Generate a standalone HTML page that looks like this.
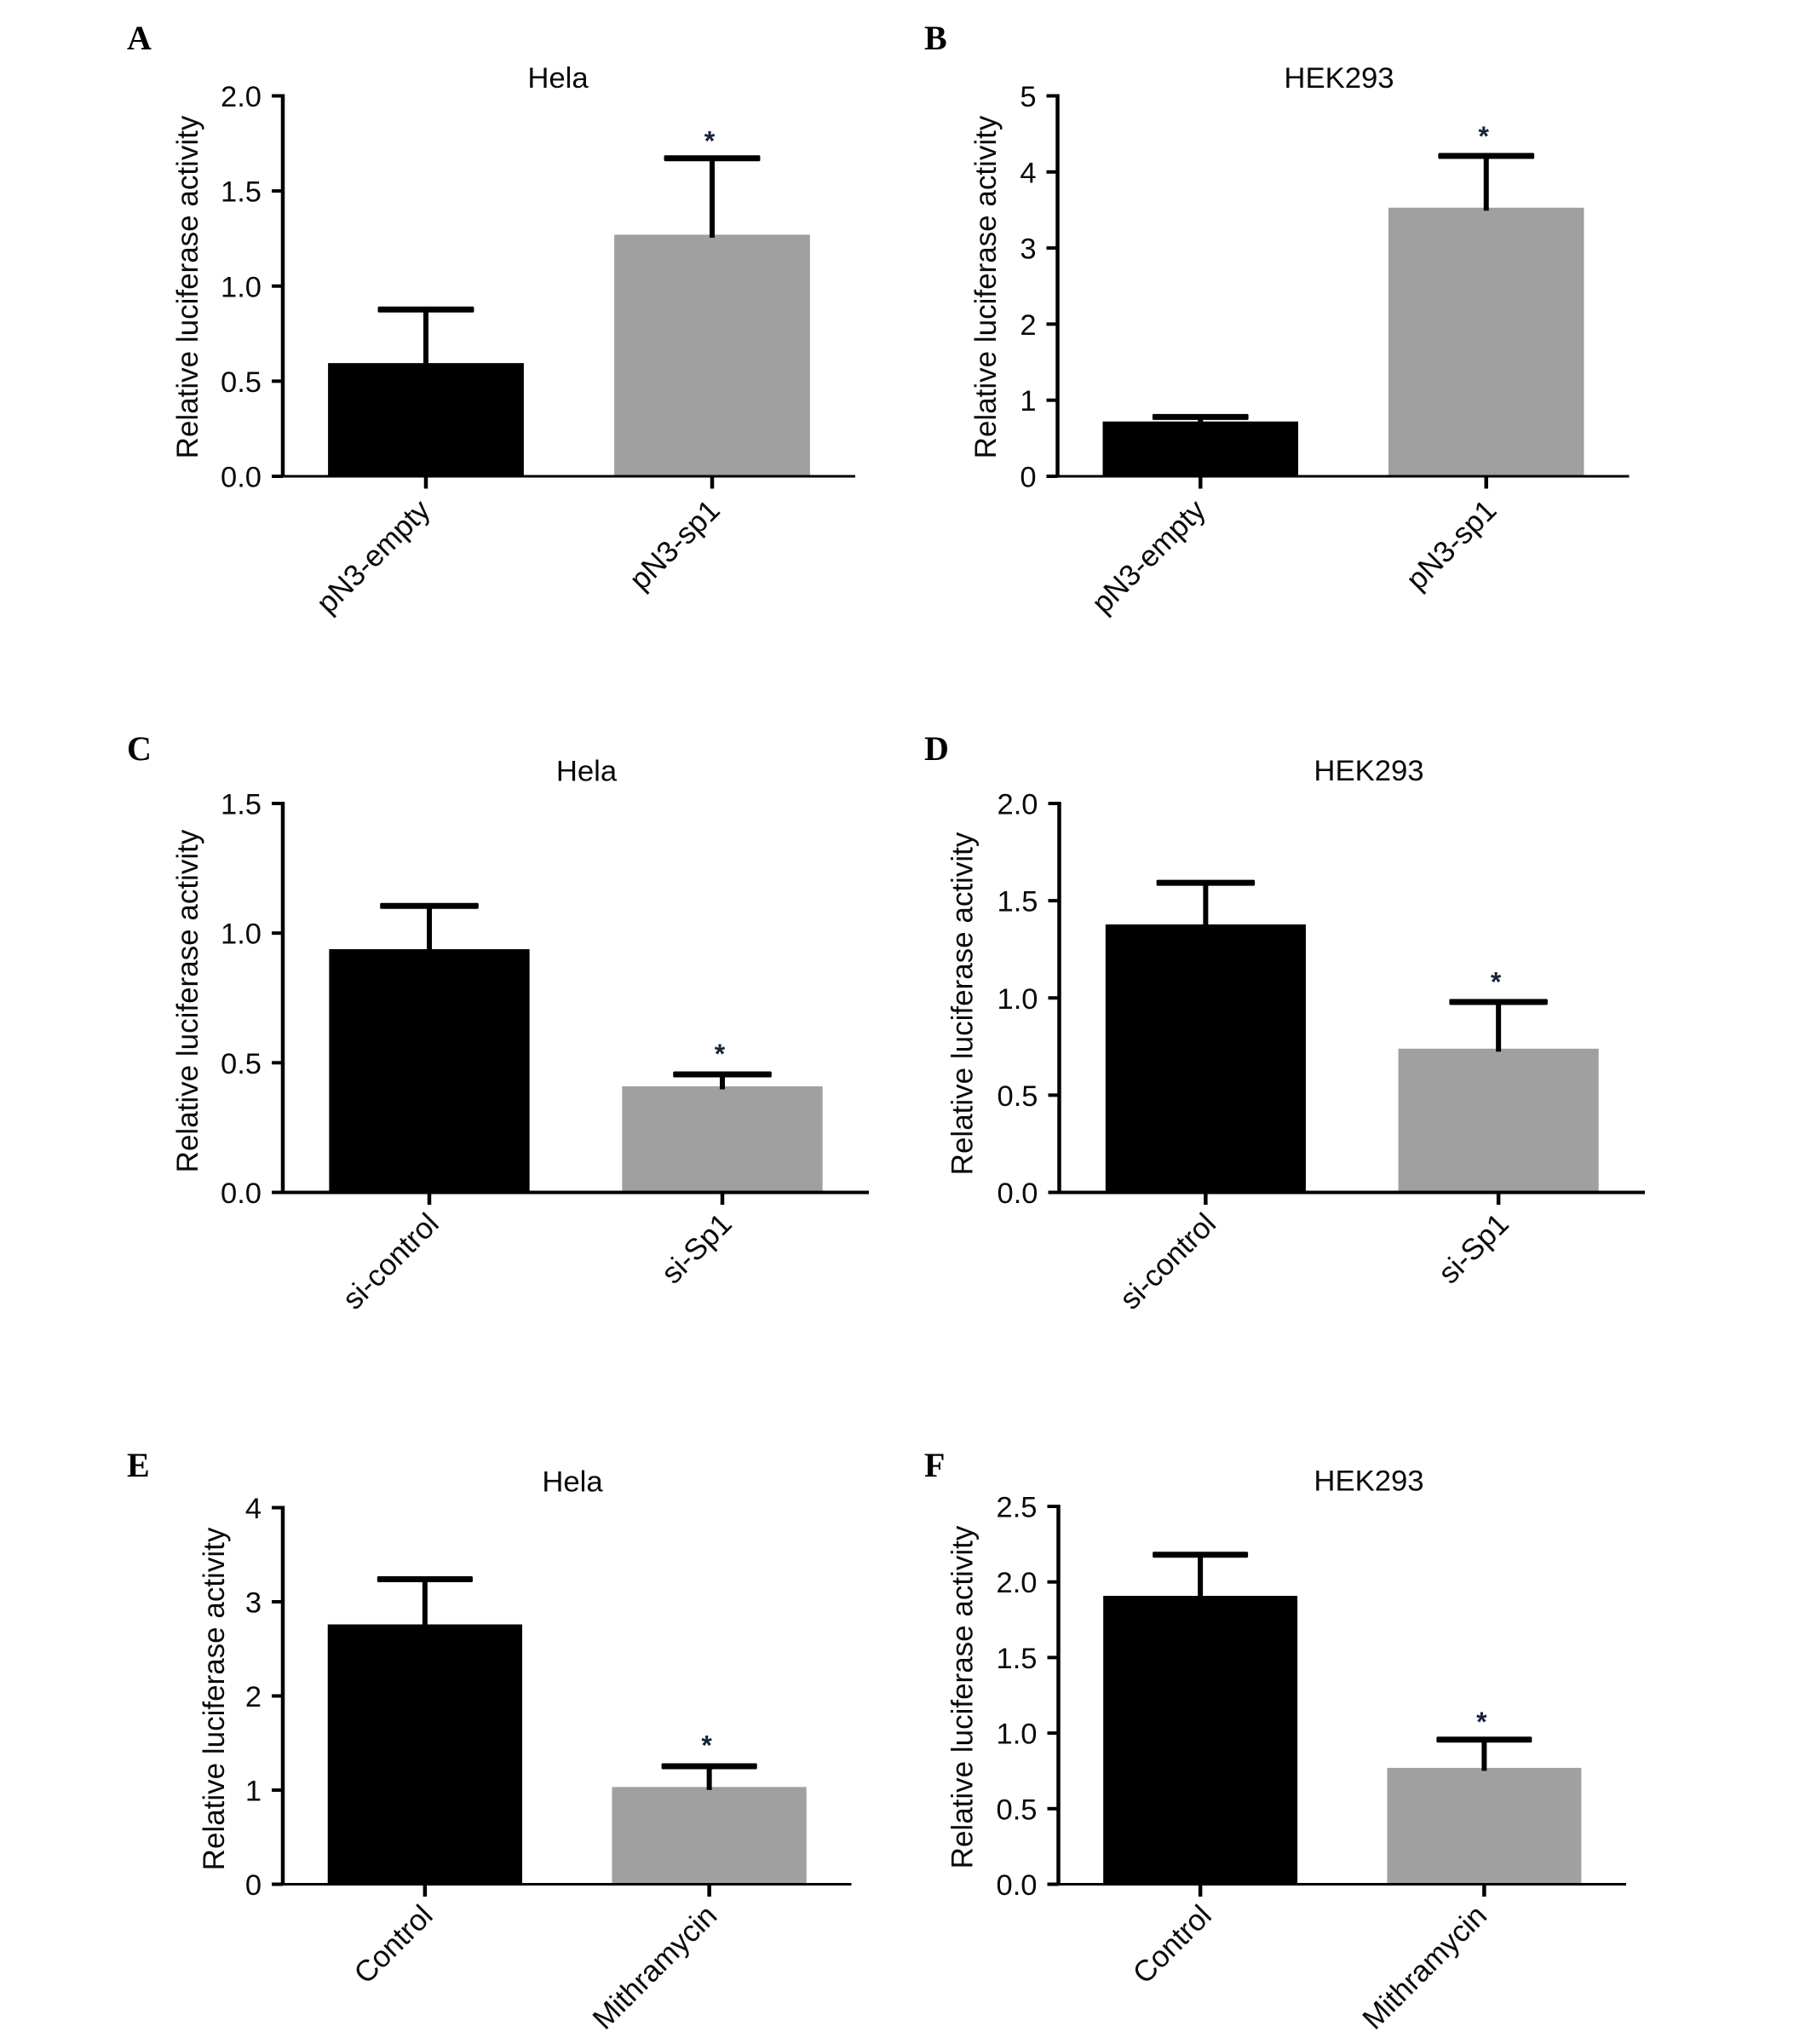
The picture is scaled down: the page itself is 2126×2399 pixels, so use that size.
<!DOCTYPE html>
<html lang="en">
<head>
<meta charset="utf-8">
<title>Relative luciferase activity panels</title>
<style>
html,body{margin:0;padding:0;background:#fff;overflow:hidden;}
svg{display:block;}
text{font-family:"Liberation Sans",Arial,sans-serif;fill:#0a0a0a;}
.letter{font-family:"Liberation Serif","Times New Roman",serif;font-weight:bold;font-size:40px;fill:#000;}
</style>
</head>
<body>
<svg id="figure" width="2126" height="2399" viewBox="0 0 2126 2399" xmlns="http://www.w3.org/2000/svg">
  <rect width="2126" height="2399" fill="#fff"/>

  <g id="panel-a">
    <text class="letter" x="149" y="58">A</text>
    <text text-anchor="middle" font-size="34.7" x="655" y="103">Hela</text>
    <text text-anchor="middle" font-size="35" transform="translate(232,337) rotate(-90)">Relative luciferase activity</text>
  </g>
  <g id="panel-b">
    <text class="letter" x="1085" y="58">B</text>
    <text text-anchor="middle" font-size="34.7" x="1572" y="103">HEK293</text>
    <text text-anchor="middle" font-size="35" transform="translate(1169,337) rotate(-90)">Relative luciferase activity</text>
  </g>
  <g id="panel-c">
    <text class="letter" x="149" y="892">C</text>
    <text text-anchor="middle" font-size="34.7" x="688.5" y="916.5">Hela</text>
    <text text-anchor="middle" font-size="35" transform="translate(232,1175) rotate(-90)">Relative luciferase activity</text>
  </g>
  <g id="panel-d">
    <text class="letter" x="1085" y="892">D</text>
    <text text-anchor="middle" font-size="34.7" x="1607" y="916">HEK293</text>
    <text text-anchor="middle" font-size="35" transform="translate(1141.5,1178) rotate(-90)">Relative luciferase activity</text>
  </g>
  <g id="panel-e">
    <text class="letter" x="149" y="1733">E</text>
    <text text-anchor="middle" font-size="34.7" x="672" y="1750.5">Hela</text>
    <text text-anchor="middle" font-size="35" transform="translate(263,1994) rotate(-90)">Relative luciferase activity</text>
  </g>
  <g id="panel-f">
    <text class="letter" x="1085" y="1733">F</text>
    <text text-anchor="middle" font-size="34.7" x="1607" y="1749.5">HEK293</text>
    <text text-anchor="middle" font-size="35" transform="translate(1141.5,1992) rotate(-90)">Relative luciferase activity</text>
  </g>
</svg>

<script>
// Chart data: values
const categoriesA = ['pN3-empty', 'pN3-sp1'];
const meansA = [0.595, 1.27];
const errorsA = [0.282, 0.402];
const tickLabelsA = ['0.0', '0.5', '1.0', '1.5', '2.0'];
const significantA = [false, true];

const categoriesB = ['pN3-empty', 'pN3-sp1'];
const meansB = [0.72, 3.53];
const errorsB = [0.06, 0.68];
const tickLabelsB = ['0', '1', '2', '3', '4', '5'];
const significantB = [false, true];

const categoriesC = ['si-control', 'si-Sp1'];
const meansC = [0.938, 0.409];
const errorsC = [0.167, 0.046];
const tickLabelsC = ['0.0', '0.5', '1.0', '1.5'];
const significantC = [false, true];

const categoriesD = ['si-control', 'si-Sp1'];
const meansD = [1.378, 0.739];
const errorsD = [0.214, 0.24];
const tickLabelsD = ['0.0', '0.5', '1.0', '1.5', '2.0'];
const significantD = [false, true];

const categoriesE = ['Control', 'Mithramycin'];
const meansE = [2.76, 1.033];
const errorsE = [0.48, 0.22];
const tickLabelsE = ['0', '1', '2', '3', '4'];
const significantE = [false, true];

const categoriesF = ['Control', 'Mithramycin'];
const meansF = [1.908, 0.77];
const errorsF = [0.272, 0.187];
const tickLabelsF = ['0.0', '0.5', '1.0', '1.5', '2.0', '2.5'];
const significantF = [false, true];

const barColors = ['#000000', '#a0a0a0'];
const NS = 'http://www.w3.org/2000/svg';

function make(tag, parent, attrs) {
  const el = document.createElementNS(NS, tag);
  for (const k in attrs) el.setAttribute(k, attrs[k]);
  parent.appendChild(el);
  return el;
}

function drawPanel(p) {
  const root = document.getElementById('panel-' + p.id);
  const maxValue = parseFloat(p.ticks[p.ticks.length - 1]);
  const yScale = v => p.y0 - (v / maxValue) * (p.y0 - p.yTop);
  const step = (p.xEnd - p.x0) / p.categories.length;
  const xScale = i => p.x0 + (i + 0.5) * step;
  const barW = step * 0.684;
  const capW = step * 0.336;

  // bars and error bars
  p.categories.forEach((cat, i) => {
    const cx = xScale(i);
    const top = yScale(p.means[i]);
    const capY = yScale(p.means[i] + p.errors[i]);

    const bar = make('rect', root, {x: cx - barW / 2, y: top, width: barW, height: p.y0 - top, fill: barColors[i]});
    
    

    const stem = make('rect', root, {x: cx - 3, y: capY, width: 6, height: top - capY + 3.5, fill: '#000'});
    
    

    const cap = make('rect', root, {x: cx - capW / 2, y: capY - 3.5, width: capW, height: 7, rx: 1.5, fill: '#000'});
    
    

    if (p.significant[i]) {
      const star = make('text', root, {'text-anchor': 'middle', 'font-size': 32, 'font-weight': 'bold', style: 'fill:#16233a',
        x: cx - 3, y: capY - p.starGap - 4});
      
      
      star.textContent = '*';
    }

    const tick = make('rect', root, {x: cx - 2.25, y: p.y0, width: 4.5, height: 14.5, fill: '#000'});
    
    

    const label = make('text', root, {'text-anchor': 'end', 'font-size': 35,
      transform: 'translate(' + (cx + 2 + p.labelDx[i]) + ',' + (p.y0 + 47 + p.labelDy) + ') rotate(-45)'});
    
    
    label.textContent = cat;
  });

  // y axis ticks and labels
  p.ticks.forEach(t => {
    const y = yScale(parseFloat(t));
    const tick = make('rect', root, {x: p.x0 - 13, y: y - 2, width: 13, height: 4, fill: '#000'});
    
    

    const label = make('text', root, {'text-anchor': 'end', 'font-size': 34.5,
      x: p.x0 - 25, y: y + 12.5});
    
    
    label.textContent = t;
  });

  // axes
  const yAxis = make('rect', root, {x: p.x0 - 2.25, y: p.yTop - 2, width: 4.5, height: p.y0 - p.yTop + 3, fill: '#000'});
  
  

  const xAxis = make('rect', root, {x: p.x0 - 13, y: p.y0 - p.xThick / 2, width: p.xEnd - p.x0 + 13, height: p.xThick, fill: '#000'});
  
  
}

drawPanel({id: 'a', categories: categoriesA, means: meansA, errors: errorsA, ticks: tickLabelsA, significant: significantA,
  x0: 332, xEnd: 1004, y0: 559, yTop: 112.5, xThick: 3, starGap: 5, labelDx: [5, 9], labelDy: -5});
drawPanel({id: 'b', categories: categoriesB, means: meansB, errors: errorsB, ticks: tickLabelsB, significant: significantB,
  x0: 1241.5, xEnd: 1912.5, y0: 559, yTop: 112.5, xThick: 3, starGap: 8, labelDx: [6, 12], labelDy: -5});
drawPanel({id: 'c', categories: categoriesC, means: meansC, errors: errorsC, ticks: tickLabelsC, significant: significantC,
  x0: 332, xEnd: 1020, y0: 1399.5, yTop: 943, xThick: 4, starGap: 9, labelDx: [11, 11], labelDy: -8});
drawPanel({id: 'd', categories: categoriesD, means: meansD, errors: errorsD, ticks: tickLabelsD, significant: significantD,
  x0: 1243.5, xEnd: 1931, y0: 1399.5, yTop: 943, xThick: 4, starGap: 8.5, labelDx: [12, 12], labelDy: -8});
drawPanel({id: 'e', categories: categoriesE, means: meansE, errors: errorsE, ticks: tickLabelsE, significant: significantE,
  x0: 332, xEnd: 999.5, y0: 2211.5, yTop: 1769.5, xThick: 3, starGap: 9.5, labelDx: [9, 9], labelDy: -8});
drawPanel({id: 'f', categories: categoriesF, means: meansF, errors: errorsF, ticks: tickLabelsF, significant: significantF,
  x0: 1242.5, xEnd: 1909, y0: 2211.5, yTop: 1768, xThick: 3, starGap: 5.5, labelDx: [13, 3], labelDy: -8});
</script>
</body>
</html>
